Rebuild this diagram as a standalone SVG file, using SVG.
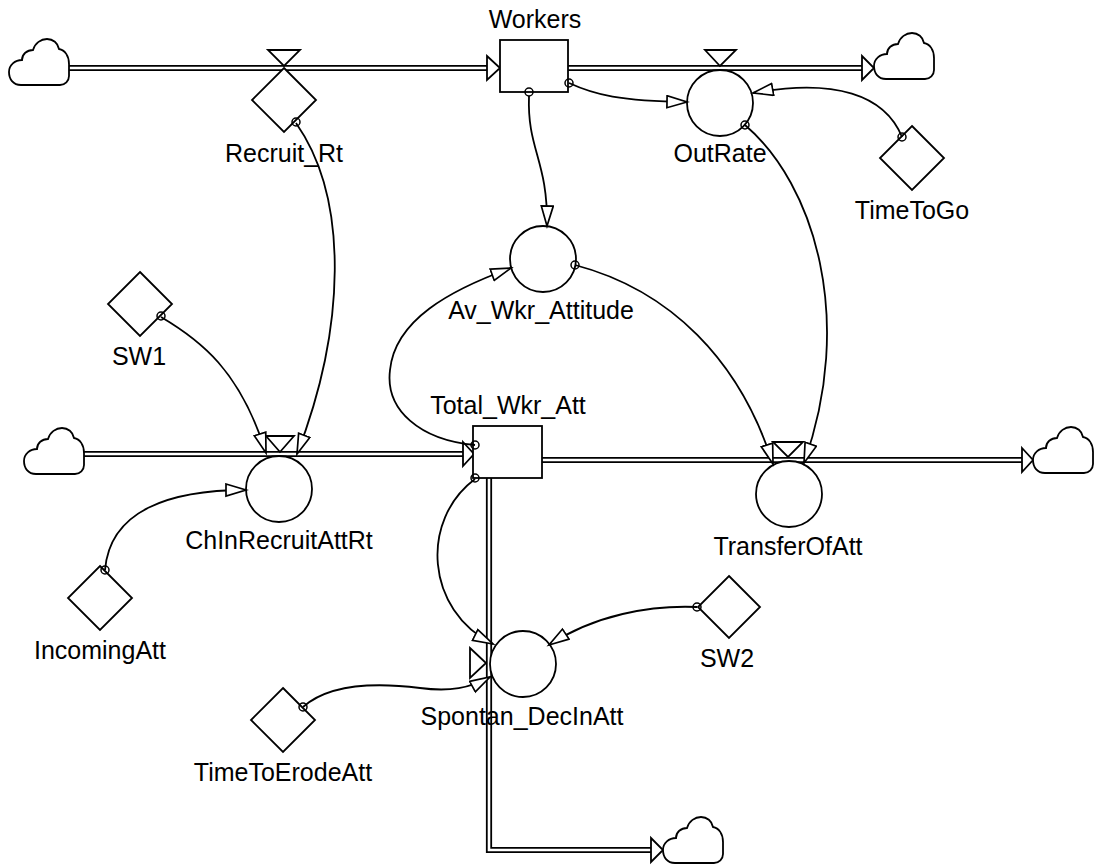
<svg xmlns="http://www.w3.org/2000/svg" width="1096" height="865" viewBox="0 0 1096 865">
<defs>
<style>
.sh{fill:#fff;stroke:#000;stroke-width:1.8}
.lbl{font-family:"Liberation Sans",Arial,sans-serif;font-size:25px;text-anchor:middle;fill:#000}
.lk{fill:none;stroke:#000;stroke-width:1.8;marker-end:url(#ah)}
.src{fill:none;stroke:#000;stroke-width:1.5}
.po{fill:none;stroke:#000;stroke-width:6.2}
.pi{fill:none;stroke:#fff;stroke-width:2.6}
</style>
<marker id="ah" markerUnits="userSpaceOnUse" markerWidth="24" markerHeight="16" viewBox="0 0 24 16" refX="21" refY="7" orient="auto">
<path d="M1,1 L21,7 L1,13 Z" fill="#fff" stroke="#000" stroke-width="1.7"/>
</marker>
<path id="cloud" d="M12,46 C4,46 0,40 0,33 C0,26 6,21 13,21 C13,15 18,11 24,11 C26,4 32,0 38,0 C44,0 49,4 50,10 C56,11 60,17 60,25 L60,37 C60,42 56,46 51,46 Z" fill="#fff" stroke="#000" stroke-width="1.8"/>
</defs>
<rect width="1096" height="865" fill="#fff"/>

<g id="pipes">
<path class="po" d="M69,68 L488,68"/><path class="pi" d="M69,68 L488,68"/>
<path class="sh" d="M487,56 L500,68 L487,80 Z"/>
<path class="po" d="M568,68 L863,68"/><path class="pi" d="M567,68 L863,68"/>
<path class="sh" d="M862,56 L874,68 L862,80 Z"/>
<path class="po" d="M83,454 L464,454"/><path class="pi" d="M83,454 L464,454"/>
<path class="sh" d="M463,442 L474,454 L463,466 Z"/>
<path class="po" d="M541,460 L1023,460"/><path class="pi" d="M541,460 L1023,460"/>
<path class="sh" d="M1022,448 L1033,460 L1022,472 Z"/>
<path class="po" d="M489,477 L489,850 L652,850"/><path class="pi" d="M489,476 L489,850 L652,850"/>
<path class="sh" d="M651,838 L663,850 L651,862 Z"/>
</g>

<g id="clouds">
<use href="#cloud" x="9" y="39"/>
<use href="#cloud" x="874" y="33"/>
<use href="#cloud" x="24" y="428"/>
<use href="#cloud" x="1033" y="427"/>
<use href="#cloud" x="663" y="817"/>
</g>

<g id="Workers">
<rect class="sh" x="500" y="40" width="68" height="52"/>
<text class="lbl" x="535" y="28">Workers</text>
</g>
<g id="Total_Wkr_Att">
<rect class="sh" x="473" y="426" width="69" height="52"/>
<text class="lbl" x="508" y="414">Total_Wkr_Att</text>
</g>
<g id="Recruit_Rt">
<path class="sh" d="M268,50 L300,50 L284,66 Z"/>
<path class="sh" d="M284,68 L316,100 L284,132 L252,100 Z"/>
<text class="lbl" x="284" y="162">Recruit_Rt</text>
</g>
<g id="OutRate">
<path class="sh" d="M705,50 L736,50 L720,66 Z"/>
<circle class="sh" cx="720" cy="103" r="33"/>
<text class="lbl" x="720" y="162">OutRate</text>
</g>
<g id="TimeToGo">
<path class="sh" d="M912,126 L944,158 L912,190 L880,158 Z"/>
<text class="lbl" x="912" y="219">TimeToGo</text>
</g>
<g id="Av_Wkr_Attitude">
<circle class="sh" cx="543" cy="259" r="33"/>
<text class="lbl" x="541" y="319">Av_Wkr_Attitude</text>
</g>
<g id="SW1">
<path class="sh" d="M140,272 L172,304 L140,336 L108,304 Z"/>
<text class="lbl" x="139" y="365">SW1</text>
</g>
<g id="ChInRecruitAttRt">
<path class="sh" d="M266,436 L294,436 L280,452 Z"/>
<circle class="sh" cx="279" cy="489" r="33"/>
<text class="lbl" x="279" y="549">ChInRecruitAttRt</text>
</g>
<g id="TransferOfAtt">
<path class="sh" d="M773,442 L803,442 L788,457 Z"/>
<circle class="sh" cx="789" cy="494" r="33"/>
<text class="lbl" x="788" y="555">TransferOfAtt</text>
</g>
<g id="IncomingAtt">
<path class="sh" d="M100,566 L132,598 L100,630 L68,598 Z"/>
<text class="lbl" x="100" y="659">IncomingAtt</text>
</g>
<g id="SW2">
<path class="sh" d="M729,576 L760,607 L729,638 L698,607 Z"/>
<text class="lbl" x="727" y="667">SW2</text>
</g>
<g id="Spontan_DecInAtt">
<path class="sh" d="M470,648 L486,663 L470,678 Z"/>
<circle class="sh" cx="523" cy="664" r="33"/>
<text class="lbl" x="522" y="725">Spontan_DecInAtt</text>
</g>
<g id="TimeToErodeAtt">
<path class="sh" d="M283,688 L315,720 L283,752 L251,720 Z"/>
<text class="lbl" x="283" y="781">TimeToErodeAtt</text>
</g>

<g id="connectors">
<path class="lk" d="M569,83 C595,95 620,101 687,102"/>
<circle class="src" cx="569" cy="83" r="4"/>
<path class="lk" d="M529,96 C527,150 548,160 547,226"/>
<circle class="src" cx="529" cy="92" r="4"/>
<path class="lk" d="M296,123 C350,200 345,330 297,454"/>
<circle class="src" cx="296" cy="122" r="4"/>
<path class="lk" d="M161,317 C200,340 240,370 266,453"/>
<circle class="src" cx="161" cy="316" r="4"/>
<path class="lk" d="M105,570 C110,510 170,490 246,490"/>
<circle class="src" cx="105" cy="570" r="4"/>
<path class="lk" d="M575,265 C670,290 740,360 773,464"/>
<circle class="src" cx="575" cy="265" r="4"/>
<path class="lk" d="M745,125 C815,185 855,320 804,463"/>
<circle class="src" cx="745" cy="125" r="4"/>
<path class="lk" d="M902,137 C885,95 835,78 753,93"/>
<circle class="src" cx="902" cy="137" r="4"/>
<path class="lk" d="M475,445 C420,440 385,410 390,370 C395,320 450,290 511,268"/>
<circle class="src" cx="475" cy="445" r="4"/>
<path class="lk" d="M475,479 C420,520 425,610 493,644"/>
<circle class="src" cx="475" cy="478" r="4"/>
<path class="lk" d="M303,707 C330,683 380,683 420,688 C450,692 470,688 490,677"/>
<circle class="src" cx="303" cy="707" r="4"/>
<path class="lk" d="M697,607 C650,605 595,615 549,645"/>
<circle class="src" cx="697" cy="607" r="4"/>
</g>
</svg>
